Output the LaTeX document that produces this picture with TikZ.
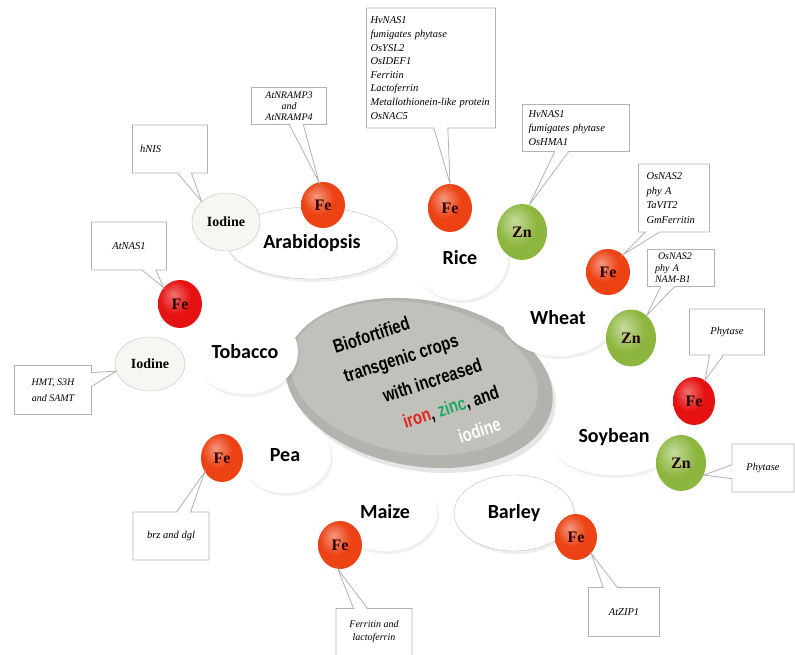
\documentclass[tikz,border=0pt]{standalone}
\usepackage{fontspec}
\setmainfont{Liberation Serif}
\newfontfamily\cropfont{Carlito}
\newfontfamily\discfont[FakeStretch=0.78]{Liberation Sans}
\usepackage{tikz}
\usetikzlibrary{positioning,shapes.geometric,shapes.callouts,shadows}
\definecolor{feorange}{RGB}{236,66,20}
\definecolor{fered}{RGB}{230,18,18}
\definecolor{zngreen}{RGB}{140,182,62}
\definecolor{iowhite}{RGB}{245,247,240}
\definecolor{discrim}{RGB}{180,178,172}
\definecolor{discface}{RGB}{194,192,186}
\definecolor{irontext}{RGB}{225,35,35}
\definecolor{zinctext}{RGB}{30,170,100}
\pgfdeclareradialshading{feball}{\pgfpoint{-8bp}{10bp}}{color(0bp)=(feorange!55!white); color(18bp)=(feorange); color(46bp)=(feorange); color(60bp)=(feorange!80!black)}
\pgfdeclareradialshading{redball}{\pgfpoint{-8bp}{10bp}}{color(0bp)=(fered!60!white); color(18bp)=(fered); color(46bp)=(fered); color(60bp)=(fered!80!black)}
\pgfdeclareradialshading{znball}{\pgfpoint{-8bp}{10bp}}{color(0bp)=(zngreen!50!white); color(20bp)=(zngreen); color(46bp)=(zngreen); color(60bp)=(zngreen!80!black)}
\tikzset{
	cropnode/.style={ellipse, fill=white, inner sep=0pt, font=\cropfont\bfseries\fontsize{20}{24}\selectfont, drop shadow={opacity=0.12, shadow xshift=2pt, shadow yshift=-3pt}},
	element/.style={ellipse, inner sep=0pt, minimum width=44pt, minimum height=48pt, font=\bfseries\fontsize{16}{18}\selectfont, text=black!85!red},
	fenode/.style={element, shading=feball},
	redfenode/.style={element, shading=redball},
	znnode/.style={element, shading=znball, minimum width=50pt, minimum height=57pt},
	ionode/.style={element, fill=iowhite, draw=gray!50, text=black, font=\bfseries\fontsize{14}{16}\selectfont},
	genebox/.style={rectangle callout, draw=gray!60, fill=white, line width=0.8pt, inner sep=4pt, align=center, callout pointer width=14pt, font=\itshape\fontsize{10.5}{13.6}\selectfont},
	disctext/.style={font=\discfont\bfseries\fontsize{19}{31}\selectfont, rotate=18, inner sep=0pt, align=center}
}
\begin{document}
\begin{tikzpicture}[x=1pt,y=-1pt]
	\useasboundingbox (0,0) rectangle (795,655);
	
	% centre disc
	\node[ellipse, fill=discrim, minimum width=270pt, minimum height=166pt, rotate=-10, drop shadow={opacity=0.2, shadow xshift=3pt, shadow yshift=-5pt}] (disc) at (419,383) {};
	\node[ellipse, fill=discface, minimum width=250pt, minimum height=150pt, rotate=-10] (face) at (414,378) {};
	\node[disctext] (title) at (427,382) {\hspace*{-77pt}Biofortified\\\hspace*{-35pt}transgenic crops\\\hspace*{11pt}with increased\\\hspace*{30pt}\textcolor{irontext}{iron}, \textcolor{zinctext}{zinc}, and\\\hspace*{70pt}\textcolor{white}{iodine}};
	
	% crops
	\node[cropnode, draw=gray!50, minimum width=170pt, minimum height=72pt] (arab) at (312,243) {Arabidopsis};
	\node[cropnode, minimum width=96pt, minimum height=84pt] (rice) at (460,258) {Rice};
	\node[cropnode, minimum width=112pt, minimum height=76pt] (wheat) at (558,318) {Wheat};
	\node[cropnode, minimum width=106pt, minimum height=84pt] (tobacco) at (245,352) {Tobacco};
	\node[cropnode, minimum width=132pt, minimum height=76pt] (soy) at (614,437) {Soybean};
	\node[cropnode, minimum width=92pt, minimum height=76pt] (pea) at (285,455) {Pea};
	\node[cropnode, minimum width=104pt, minimum height=78pt] (maize) at (385,512) {Maize};
	\node[cropnode, draw=gray!50, minimum width=120pt, minimum height=76pt] (barley) at (514,513) {Barley};
	
	% iron, zinc and iodine
	\node[ionode, minimum width=68pt, minimum height=58pt] (ioArab) at (226,222) {Iodine};
	\node[fenode, minimum height=46pt] (feArab) at (323,205) {Fe};
	\node[ionode, minimum width=70pt, minimum height=54pt] (ioTob) at (150,364) {Iodine};
	\node[redfenode] (feTob) at (180,304) {Fe};
	\node[fenode] (feRice) at (450,208) {Fe};
	\node[znnode, minimum height=56pt] (znRice) at (522,232) {Zn};
	\node[fenode, minimum height=46pt] (feWheat) at (608,272) {Fe};
	\node[znnode] (znWheat) at (631,338) {Zn};
	\node[redfenode, minimum width=42pt] (feSoy) at (694,401) {Fe};
	\node[znnode, minimum height=56pt] (znSoy) at (681,463) {Zn};
	\node[fenode, minimum width=42pt] (fePea) at (222,458) {Fe};
	\node[fenode] (feMaize) at (340,545) {Fe};
	\node[fenode, minimum width=42pt, minimum height=46pt] (feBarley) at (576,537) {Fe};
	
	% genes
	\node[genebox, minimum width=75pt, minimum height=48pt, text width=60pt, align=left, callout absolute pointer={(ioArab.140)}] (hnis) at (170,149) {hNIS};
	\node[genebox, minimum width=75pt, minimum height=48pt, callout absolute pointer={(feTob.135)}] (atnas) at (129,246) {AtNAS1};
	\node[genebox, minimum width=75pt, minimum height=37pt, inner sep=2pt, font=\itshape\fontsize{10}{11}\selectfont, callout absolute pointer={(feArab.100)}] (nramp) at (289,106) {AtNRAMP3\\and\\AtNRAMP4};
	\node[genebox, minimum width=129pt, minimum height=120pt, text width=121pt, align=left, callout absolute pointer={(feRice.90)}] (ricebox) at (431,68) {HvNAS1\\fumigates phytase\\OsYSL2\\OsIDEF1\\Ferritin\\Lactoferrin\\Metallothionein-like protein\\OsNAC5};
	\node[genebox, minimum width=107pt, minimum height=47pt, text width=95pt, align=left, callout absolute pointer={(znRice.75)}] (znricebox) at (576,128) {HvNAS1\\fumigates phytase\\OsHMA1};
	\node[genebox, minimum width=71pt, minimum height=68pt, text width=55pt, align=left, font=\itshape\fontsize{10.5}{14.5}\selectfont, callout absolute pointer={(feWheat.49)}] (wheatfebox) at (674,198) {OsNAS2\\phy A\\TaVIT2\\GmFerritin};
	\node[genebox, minimum width=67pt, minimum height=37pt, inner sep=2pt, text width=52pt, align=left, font=\itshape\fontsize{10}{11.5}\selectfont, callout absolute pointer={(znWheat.55)}] (wheatznbox) at (681,268) {\hspace*{3pt}OsNAS2\\phy A\\NAM-B1};
	\node[genebox, minimum width=75pt, minimum height=46pt, callout absolute pointer={(feSoy.62)}] (soyfebox) at (727,332) {Phytase};
	\node[genebox, minimum width=62pt, minimum height=48pt, callout absolute pointer={(znSoy.-28)}] (soyznbox) at (763,468) {Phytase};
	\node[genebox, minimum width=77pt, minimum height=49pt, font=\itshape\fontsize{10}{16.5}\selectfont, callout absolute pointer={(ioTob.192)}] (tobbox) at (53,390) {HMT, S3H\\and SAMT};
	\node[genebox, minimum width=76pt, minimum height=48pt, callout absolute pointer={(fePea.219)}] (peabox) at (171,536) {brz and dgl};
	\node[genebox, minimum width=76pt, minimum height=47pt, font=\itshape\fontsize{10}{13}\selectfont, callout absolute pointer={(feMaize.265)}] (maizebox) at (374,632) {Ferritin and\\lactoferrin};
	\node[genebox, minimum width=71pt, minimum height=49pt, callout absolute pointer={(feBarley.-47)}] (barleybox) at (624,612) {AtZIP1};
\end{tikzpicture}
\end{document}
